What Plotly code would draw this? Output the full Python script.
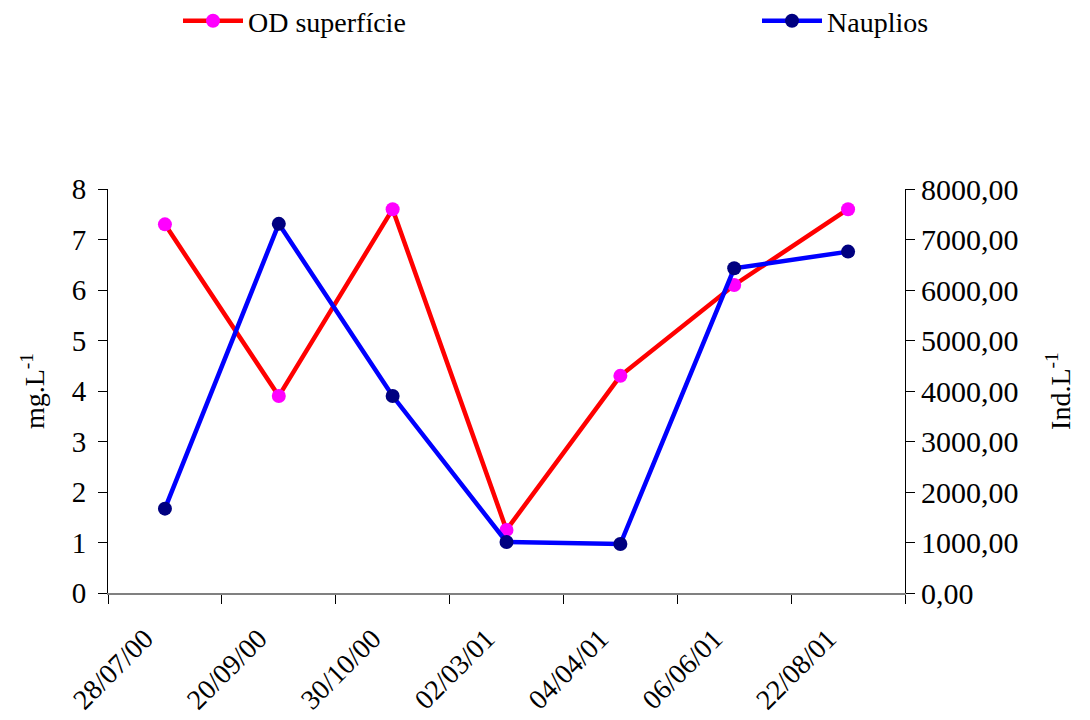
import plotly.graph_objs as go

dates = ["28/07/00", "20/09/00", "30/10/00", "02/03/01", "04/04/01", "06/06/01", "22/08/01"]
od_superficie = [7.3, 3.9, 7.6, 1.25, 4.3, 6.1, 7.6]
nauplios = [1670, 7310, 3900, 1010, 970, 6430, 6760]

FONT = "Liberation Serif"
FS = 28

fig = go.Figure()
fig.add_trace(
    go.Scatter(
        x=dates,
        y=od_superficie,
        name="OD superfície",
        legend="legend",
        mode="lines+markers",
        line=dict(color="#ff0000", width=4.5),
        marker=dict(color="#ff00ff", size=14),
    )
)
fig.add_trace(
    go.Scatter(
        x=dates,
        y=nauplios,
        name="Nauplios",
        yaxis="y2",
        legend="legend2",
        mode="lines+markers",
        line=dict(color="#0000ff", width=4.5),
        marker=dict(color="#000080", size=14),
    )
)

legend_style = dict(
    orientation="h",
    xref="container",
    yref="container",
    xanchor="left",
    yanchor="middle",
    itemwidth=60,
    font=dict(family=FONT, size=FS, color="black"),
    bgcolor="rgba(0,0,0,0)",
)

# the page body adds an 8px offset, so margins are shifted by 8px
fig.update_layout(
    width=1090,
    height=720,
    plot_bgcolor="white",
    paper_bgcolor="white",
    font=dict(family=FONT, size=FS, color="black"),
    separators=",.",
    margin=dict(l=100, r=193, t=181, b=135, autoexpand=False),
    showlegend=True,
    legend=dict(legend_style, x=170 / 1090, y=1 - 13 / 720),
    legend2=dict(legend_style, x=749 / 1090, y=1 - 13 / 720),
    xaxis=dict(
        type="category",
        range=[-0.5, 6.5],
        showgrid=False,
        zeroline=False,
        showline=True,
        linecolor="#808080",
        linewidth=2,
        ticks="outside",
        ticklen=9,
        tickcolor="black",
        tickson="boundaries",
        tickangle=-45,
        ticklabelshift=-20,
        ticklabelstandoff=16,
        tickfont=dict(family=FONT, size=FS),
    ),
    xaxis2=dict(
        overlaying="x",
        anchor="y",
        range=[-0.5, 6.5],
        tick0=-0.5,
        dtick=1,
        showgrid=False,
        zeroline=False,
        showline=False,
        showticklabels=False,
        ticks="inside",
        ticklen=9,
        tickcolor="black",
    ),
    yaxis=dict(
        range=[0, 8],
        dtick=1,
        tickformat="d",
        showgrid=False,
        zeroline=False,
        showline=True,
        linecolor="black",
        linewidth=1,
        ticks="outside",
        ticklen=9,
        tickcolor="black",
        ticklabelstandoff=6,
        tickfont=dict(family=FONT, size=29),
        title=dict(text="mg.L<sup>-1</sup>", standoff=18, font=dict(family=FONT, size=FS)),
    ),
    yaxis3=dict(
        overlaying="y",
        anchor="x",
        range=[0, 8],
        dtick=1,
        showgrid=False,
        zeroline=False,
        showline=False,
        showticklabels=False,
        ticks="inside",
        ticklen=9,
        tickcolor="black",
    ),
    yaxis2=dict(
        range=[0, 8000],
        dtick=1000,
        tickformat=".2f",
        overlaying="y",
        side="right",
        anchor="x",
        showgrid=False,
        zeroline=False,
        showline=True,
        linecolor="black",
        linewidth=1,
        ticks="outside",
        ticklen=9,
        tickcolor="black",
        tickfont=dict(family=FONT, size=30),
        title=dict(text="Ind.L<sup>-1</sup>", standoff=32, font=dict(family=FONT, size=FS)),
    ),
    yaxis4=dict(
        overlaying="y",
        anchor="x",
        side="right",
        range=[0, 8000],
        dtick=1000,
        showgrid=False,
        zeroline=False,
        showline=False,
        showticklabels=False,
        ticks="inside",
        ticklen=9,
        tickcolor="black",
    ),
)

fig.write_html("out.html")
